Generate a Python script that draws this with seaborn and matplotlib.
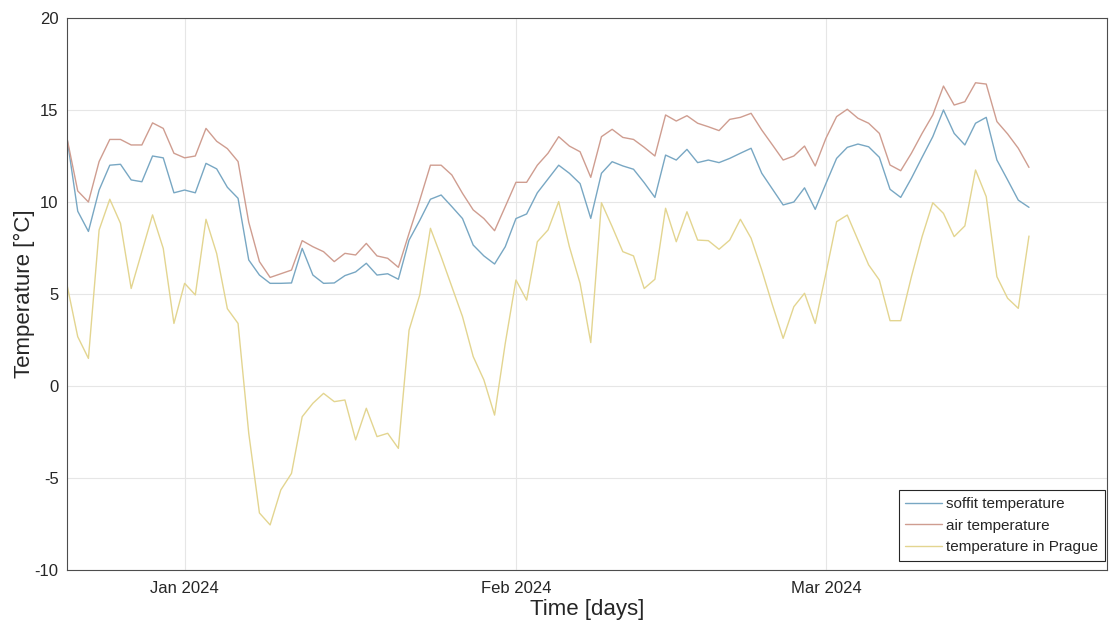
import pandas as pd
import seaborn as sns
import matplotlib.pyplot as plt

# daily values, 21 Dec 2023 .. 20 Mar 2024
start_date = '2023-12-21'
soffit_temp = [13.46, 9.5, 8.4, 10.65, 12.0, 12.05, 11.2, 11.1, 12.5, 12.4,
               10.5, 10.65, 10.5, 12.1, 11.8, 10.8, 10.2, 6.85, 6.03, 5.58,
               5.58, 5.6, 7.48, 6.03, 5.58, 5.6, 6.0, 6.2, 6.67, 6.03,
               6.1, 5.8, 7.93, 9.0, 10.15, 10.38, 9.75, 9.1, 7.66, 7.07,
               6.63, 7.57, 9.1, 9.35, 10.5, 11.25, 12.0, 11.56, 11.0, 9.11,
               11.56, 12.19, 11.96, 11.78, 11.05, 10.25, 12.55, 12.28, 12.86, 12.14,
               12.28, 12.14, 12.37, 12.65, 12.92, 11.56, 10.7, 9.84, 10.0, 10.77,
               9.6, 11.0, 12.37, 12.97, 13.15, 13.0, 12.43, 10.69, 10.25, 11.29,
               12.43, 13.55, 15.0, 13.73, 13.1, 14.28, 14.6, 12.28, 11.2, 10.1,
               9.71]
air_temp = [13.46, 10.6, 10.0, 12.2, 13.4, 13.4, 13.1, 13.1, 14.3, 14.0,
            12.65, 12.4, 12.5, 14.0, 13.3, 12.9, 12.2, 8.9, 6.76, 5.9,
            6.1, 6.3, 7.9, 7.57, 7.3, 6.76, 7.21, 7.12, 7.75, 7.07,
            6.94, 6.45, 8.3, 10.1, 12.0, 12.0, 11.47, 10.47, 9.57, 9.1,
            8.44, 9.75, 11.07, 11.07, 12.0, 12.65, 13.55, 13.04, 12.73, 11.34,
            13.55, 13.95, 13.51, 13.4, 12.97, 12.5, 14.73, 14.4, 14.69, 14.28,
            14.09, 13.88, 14.49, 14.6, 14.82, 13.91, 13.1, 12.28, 12.5, 13.04,
            11.96, 13.46, 14.64, 15.04, 14.55, 14.28, 13.73, 12.01, 11.7, 12.65,
            13.73, 14.73, 16.3, 15.27, 15.45, 16.48, 16.41, 14.37, 13.7, 12.92,
            11.88]
prague_temp = [5.49, 2.68, 1.5, 8.48, 10.15, 8.84, 5.3, 7.3, 9.3, 7.48,
               3.4, 5.58, 4.95, 9.06, 7.2, 4.2, 3.4, -2.57, -6.9, -7.55,
               -5.65, -4.75, -1.67, -0.94, -0.4, -0.85, -0.76, -2.93, -1.21, -2.75,
               -2.57, -3.39, 3.04, 4.95, 8.57, 7.03, 5.4, 3.77, 1.6, 0.33,
               -1.58, 2.32, 5.76, 4.67, 7.84, 8.48, 10.02, 7.57, 5.58, 2.36,
               9.96, 8.66, 7.3, 7.07, 5.3, 5.8, 9.66, 7.84, 9.47, 7.93,
               7.9, 7.43, 7.93, 9.06, 8.03, 6.3, 4.4, 2.59, 4.31, 5.04,
               3.4, 6.12, 8.93, 9.29, 7.93, 6.58, 5.76, 3.55, 3.55, 5.94,
               8.12, 9.96, 9.38, 8.12, 8.7, 11.74, 10.29, 5.94, 4.77, 4.22,
               8.15]
series_names = ['soffit temperature', 'air temperature', 'temperature in Prague']
series_colors = ['#78a7c3', '#cf9d90', '#e3d590']
x_tick_dates = ['2024-01-01', '2024-02-01', '2024-03-01']
x_tick_labels = ['Jan 2024', 'Feb 2024', 'Mar 2024']
y_ticks = [-10, -5, 0, 5, 10, 15, 20]


def main():
    dates = pd.date_range(start_date, periods=len(soffit_temp), freq='D')
    df = pd.DataFrame({'date': dates,
                       series_names[0]: soffit_temp,
                       series_names[1]: air_temp,
                       series_names[2]: prague_temp})
    long_df = df.melt(id_vars='date', var_name='series', value_name='temp')

    sns.set_theme(style='white')
    plt.rcParams['font.family'] = ['Liberation Sans', 'DejaVu Sans']

    fig = plt.figure(figsize=(11.1, 6.27), dpi=100)
    ax = fig.add_axes([0.0604, 0.0909, 0.9369, 0.8804])

    sns.lineplot(data=long_df, x='date', y='temp', hue='series',
                 hue_order=series_names, palette=series_colors,
                 linewidth=1.0, ax=ax)

    ax.set_xlim(pd.Timestamp(start_date), pd.Timestamp(start_date) + pd.Timedelta(days=97.3))
    ax.set_ylim(-10, 20)
    ax.set_yticks(y_ticks)
    ax.set_yticklabels([str(v) for v in y_ticks])
    ax.set_xticks(pd.to_datetime(x_tick_dates))
    ax.set_xticklabels(x_tick_labels)

    # matlab-ish look: light grid, inward ticks, boxed axes
    ax.grid(True, color='#e6e6e6', linewidth=0.8)
    for side in ax.spines.values():
        side.set_color('#4d4d4d')
        side.set_linewidth(0.8)
    ax.tick_params(direction='in', length=5, width=0.8, color='#4d4d4d',
                   labelsize=12, labelcolor='#262626')
    ax.tick_params(axis='y', pad=6)
    ax.tick_params(axis='x', pad=8)

    ax.set_xlabel('Time [days]', fontsize=16, color='#262626', labelpad=2)
    ax.set_ylabel('Temperature [°C]', fontsize=16, color='#262626', labelpad=0)

    leg = ax.legend(loc='lower right', bbox_to_anchor=(0.998, 0.016), borderaxespad=0,
                    fontsize=11, frameon=True, fancybox=False, framealpha=1,
                    handlelength=2.4, handletextpad=0.25, labelspacing=0.5,
                    borderpad=0.45)
    leg.get_frame().set_edgecolor('#262626')
    leg.get_frame().set_linewidth(0.8)

    plt.savefig('out.png', dpi=100)


if __name__ == '__main__':
    main()
